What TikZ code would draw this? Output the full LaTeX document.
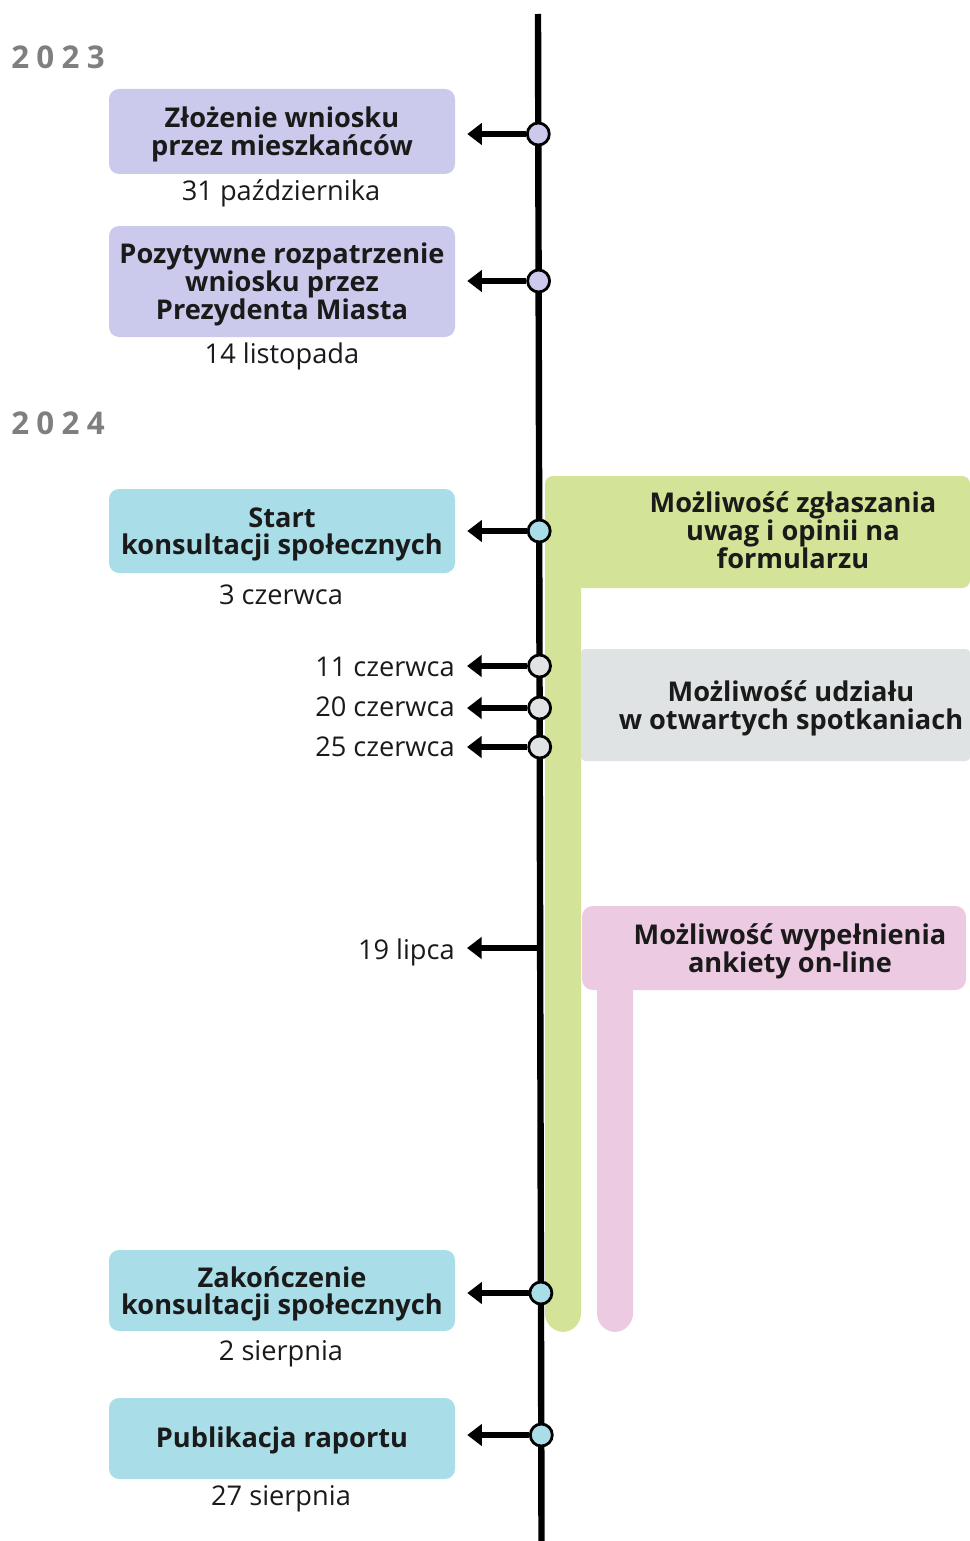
\documentclass[tikz,border=0pt]{standalone}
\usepackage{fontspec}
\setmainfont{Open Sans}
\usetikzlibrary{arrows.meta}

\definecolor{lavender}{HTML}{CBCAEC}
\definecolor{skyblue}{HTML}{A9DEE9}
\definecolor{palegrey}{HTML}{E0E3E4}
\definecolor{limegreen}{HTML}{D3E397}
\definecolor{pinkish}{HTML}{ECCAE2}
\definecolor{ink}{HTML}{1A1A1A}
\definecolor{yeargrey}{HTML}{7F7F7F}

\tikzset{
  box/.style={rounded corners=7.5pt, minimum width=259.5pt, inner sep=0pt},
  boxtext/.style={align=center, text=ink, font=\bfseries\fontsize{20.4}{20.8}\selectfont, inner sep=0pt},
  date/.style={font=\fontsize{20.4}{21}\selectfont, text=ink, inner sep=0pt, yshift=-1.5pt},
  year/.style={font=\bfseries\fontsize{23.5}{24}\selectfont, text=yeargrey, anchor=west, inner sep=0pt},
  dot/.style={circle, draw=black, line width=2.1pt, minimum size=16.5pt, inner sep=0pt},
  pointer/.style={line width=4.5pt, -{Triangle[length=11pt,width=16pt]}, shorten >=9pt},
  phase/.style={align=center, text=ink, font=\bfseries\fontsize{20.4}{20.8}\selectfont, inner sep=0pt}
}

\begin{document}
\begin{tikzpicture}[x=0.75pt,y=-0.75pt]
    \useasboundingbox (0,0) rectangle (970,1541);

    % phases on the right
    \fill[limegreen, rounded corners=14] (545,560) rectangle (581,1332);
    \fill[limegreen, rounded corners=6] (545,476) rectangle (970,588);
    \fill[palegrey, rounded corners=3] (581,649) rectangle (970,761);
    \fill[pinkish, rounded corners=14] (597,960) rectangle (633,1332);
    \fill[pinkish, rounded corners=8] (582,906) rectangle (966,990);
    \node[phase] (p1) at (793,530) {Możliwość zgłaszania\\uwag i opinii na\\formularzu};
    \node[phase] (p2) at (791,708) {Możliwość udziału\\w otwartych spotkaniach};
    \node[phase] (p3) at (790,951) {Możliwość wypełnienia\\ankiety on-line};

    % years
    \node[year] (y23) at (11,57) {2\hspace{5.5pt}0\hspace{5.5pt}2\hspace{5.5pt}3};
    \node[year] (y24) at (11,423) {2\hspace{5.5pt}0\hspace{5.5pt}2\hspace{5.5pt}4};

    % boxes and dates
    \node[box, fill=lavender, minimum height=63.75pt] (b1) at (282,131.5) {};
    \node[boxtext] (t1) at ([yshift=-2.25pt]b1.center) {Złożenie wniosku\\przez mieszkańców};
    \node[date] (d1) at (281,191) {31 października};
    \node[box, fill=lavender, minimum height=83.25pt] (b2) at (282,281.5) {};
    \node[boxtext] (t2) at ([yshift=-2.25pt]b2.center) {Pozytywne rozpatrzenie\\wniosku przez\\Prezydenta Miasta};
    \node[date] (d2) at (282,354) {14 listopada};
    \node[box, fill=skyblue, minimum height=63pt] (b3) at (282,531) {};
    \node[boxtext] (t3) at ([yshift=-2.5pt]b3.center) {Start\\konsultacji społecznych};
    \node[date] (d3) at (281,593) {3 czerwca};
    \node[date, anchor=east] (d4) at (455,665) {11 czerwca};
    \node[date, anchor=east] (d5) at (455,705) {20 czerwca};
    \node[date, anchor=east] (d6) at (455,745) {25 czerwca};
    \node[date, anchor=east] (d7) at (455,950) {19 lipca};
    \node[box, fill=skyblue, minimum height=60.75pt] (b4) at (282,1290.5) {};
    \node[boxtext] (t4) at ([yshift=-2.5pt]b4.center) {Zakończenie\\konsultacji społecznych};
    \node[date] (d8) at (281,1352) {2 sierpnia};
    \node[box, fill=skyblue, minimum height=60.75pt] (b5) at (282,1438.5) {};
    \node[boxtext] (t5) at ([yshift=-1.5pt]b5.center) {Publikacja raportu};
    \node[date] (d9) at (281,1497) {27 sierpnia};

    % timeline
    \draw[line width=4.8pt] (538,14) -- (541.5,1541);
    \node[dot, fill=lavender] (c1) at (538.3,134) {};
    \node[dot, fill=lavender] (c2) at (538.6,281) {};
    \node[dot, fill=skyblue] (c3) at (539.2,531) {};
    \node[dot, fill=palegrey] (c4) at (539.5,666) {};
    \node[dot, fill=palegrey] (c5) at (539.6,708) {};
    \node[dot, fill=palegrey] (c6) at (539.7,747) {};
    \coordinate (c7) at (540.1,948);
    \node[dot, fill=skyblue] (c8) at (540.9,1293) {};
    \node[dot, fill=skyblue] (c9) at (541.3,1435) {};

    \draw[pointer] (c1) -- (c1 -| b1.east);
    \draw[pointer] (c2) -- (c2 -| b2.east);
    \draw[pointer] (c3) -- (c3 -| b3.east);
    \draw[pointer] (c4) -- (c4 -| d4.east);
    \draw[pointer] (c5) -- (c5 -| d5.east);
    \draw[pointer] (c6) -- (c6 -| d6.east);
    \draw[pointer] (c7) -- (c7 -| d7.east);
    \draw[pointer] (c8) -- (c8 -| b4.east);
    \draw[pointer] (c9) -- (c9 -| b5.east);
\end{tikzpicture}
\end{document}
